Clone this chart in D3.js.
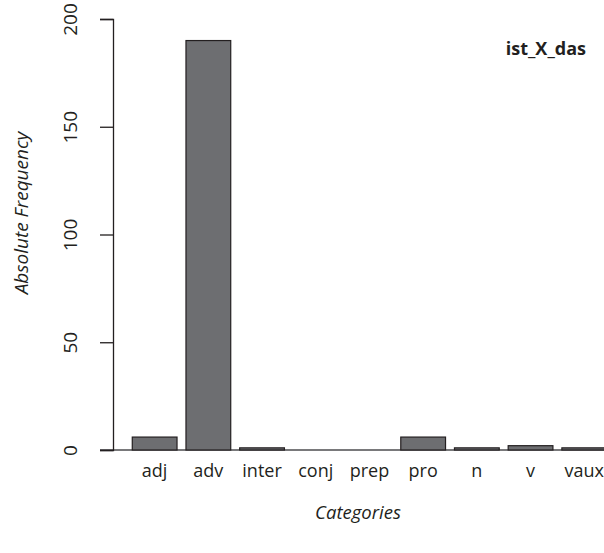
<!DOCTYPE html>
<html>
<head>
<meta charset="utf-8">
<script src="https://cdn.jsdelivr.net/npm/d3@7"></script>
<style>
  html, body { margin: 0; padding: 0; background: #fff; }
  svg { display: block; }
  text { font-family: "Open Sans", "Noto Sans", sans-serif; fill: #231f20; }
</style>
</head>
<body>
<svg id="chart" width="604" height="553"></svg>
<script>
const categories = ["adj", "adv", "inter", "conj", "prep", "pro", "n", "v", "vaux"];
const frequencies = [6, 190, 1, 0, 0, 6, 1, 2, 1];
const yTicks = [0, 50, 100, 150, 200];
const chartTitle = "ist_X_das";
const xTitle = "Categories";
const yTitle = "Absolute Frequency";

const svg = d3.select("#chart");

const x = d3.scaleBand()
  .domain(categories)
  .range([127.8, 611.1])
  .paddingInner(1 / 6)
  .paddingOuter(1 / 12);

const y = d3.scaleLinear().domain([0, 200]).range([450, 19]);

// baseline
svg.append("line")
  .attr("x1", 100).attr("x2", 604)
  .attr("y1", y(0)).attr("y2", y(0))
  .attr("stroke", "#4d4d4f").attr("stroke-width", 1.5);

// bars
svg.append("g").selectAll("rect")
  .data(categories.map((c, i) => ({ c, v: frequencies[i] })))
  .join("rect")
  .attr("x", d => x(d.c))
  .attr("width", x.bandwidth())
  .attr("y", d => y(d.v))
  .attr("height", d => y(0) - y(d.v))
  .attr("fill", "#6d6e71")
  .attr("stroke", "#231f20")
  .attr("stroke-width", 1.2);

// y axis
const yAxis = d3.axisLeft(y).tickValues(yTicks).tickSize(13).tickPadding(0).tickFormat(d3.format("d"));
const gy = svg.append("g").attr("transform", "translate(113,0)").call(yAxis);
gy.select(".domain").attr("stroke", "#231f20").attr("stroke-width", 1.3);
gy.selectAll(".tick line").attr("stroke", "#231f20").attr("stroke-width", 1.3);
gy.selectAll(".tick text")
  .attr("x", null).attr("dy", null)
  .attr("text-anchor", "middle")
  .attr("transform", "translate(-36,0) rotate(-90)")
  .style("font-size", "19px")
  .style("font-family", "'Open Sans', sans-serif")
  .attr("fill", "#231f20");

// x category labels
svg.append("g").selectAll("text")
  .data(categories)
  .join("text")
  .attr("x", d => x(d) + x.bandwidth() / 2)
  .attr("y", 477)
  .attr("text-anchor", "middle")
  .style("font-size", "18px")
  .text(d => d);

// axis titles
svg.append("text")
  .attr("x", 358).attr("y", 519)
  .attr("text-anchor", "middle")
  .style("font-size", "18.5px").style("font-style", "italic")
  .text(xTitle);

svg.append("text")
  .attr("transform", "translate(28,213) rotate(-90)")
  .attr("text-anchor", "middle")
  .style("font-size", "19px").style("font-style", "italic")
  .text(yTitle);

// title
svg.append("text")
  .attr("x", 586).attr("y", 55)
  .attr("text-anchor", "end")
  .style("font-size", "18px").style("font-weight", "bold")
  .text(chartTitle);
</script>
</body>
</html>
